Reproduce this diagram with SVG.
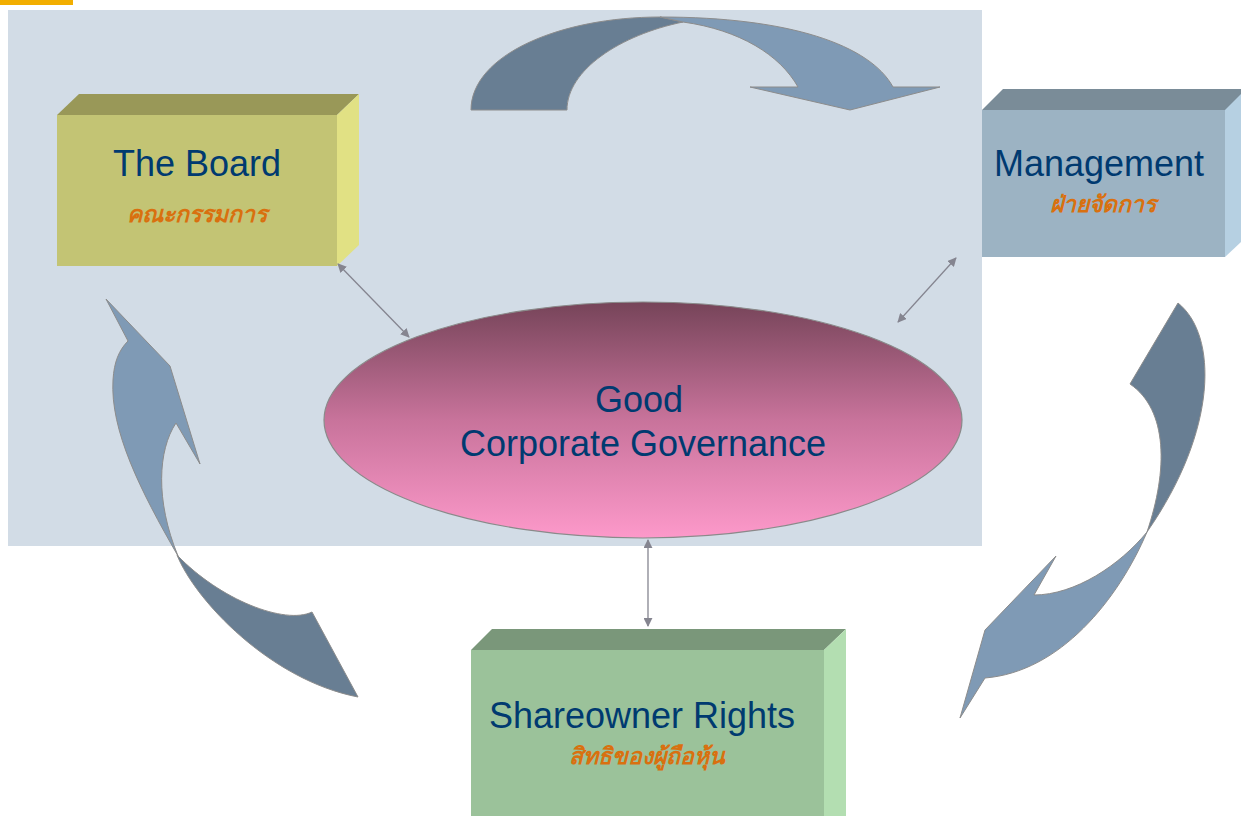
<svg xmlns="http://www.w3.org/2000/svg" width="1241" height="816" viewBox="0 0 1241 816">
<defs>
<style>
.en{font-family:"Liberation Sans",Arial,sans-serif;font-size:36px;fill:#003A70;text-anchor:middle}
.th{font-family:"DejaVu Sans","Noto Sans",sans-serif;font-size:23px;font-weight:bold;font-style:italic;fill:#D9700F;text-anchor:middle}
.dk{fill:#687E93;stroke:#8C8C8C;stroke-width:1}
.lt{fill:#7F9AB5;stroke:#8C8C8C;stroke-width:1}
.conn{stroke:#858590;stroke-width:1.3;fill:none;marker-start:url(#ah);marker-end:url(#ah)}
</style>
<marker id="ah" viewBox="0 0 10 10" refX="9" refY="5" markerWidth="9" markerHeight="9" markerUnits="userSpaceOnUse" orient="auto-start-reverse">
<path d="M0,0 L10,5 L0,10 Z" fill="#858590"/>
</marker>
<linearGradient id="eg" x1="0" y1="0" x2="0" y2="1">
<stop offset="0" stop-color="#764459"/>
<stop offset="0.5" stop-color="#C8739B"/>
<stop offset="1" stop-color="#FD99CA"/>
</linearGradient>
</defs>
<rect width="1241" height="816" fill="#FFFFFF"/>
<rect x="0" y="0" width="73" height="5" fill="#F2AE00"/>
<rect x="8" y="10" width="974" height="536" fill="#D2DCE6"/>

<g id="curved-arrows">
<path class="dk" d="M471,110 C471,55 560,17 660,17 L683,22 C620,35 567,70 567,110 Z"/>
<path class="lt" d="M660,17 C790,17 870,45 893,87 L940,87 L850,110 L750,87 L798,87 C780,55 740,30 683,22 Z"/>
<path class="dk" d="M312,612 L358,697 C270,680 195,600 177,555 C220,600 285,625 312,612 Z"/>
<path class="lt" d="M178,556 C140,490 110,430 113,380 C114,362 119,350 128,341 L106,299 L170,366 L200,464 L176,423 C158,450 155,500 178,556 Z"/>
<path class="dk" d="M1178,303 C1218,335 1218,430 1147,532 C1168,470 1168,410 1130,384 Z"/>
<path class="lt" d="M1147,532 C1118,600 1060,672 985,678 L960,718 L985,630 L1056,556 L1034,595 C1075,595 1120,565 1147,532 Z"/>
</g>

<g id="board">
<polygon points="57,115 79,94 359,94 337,115" fill="#999858"/>
<polygon points="337,115 359,94 359,245 337,266" fill="#E1E184"/>
<rect x="57" y="115" width="280" height="151" fill="#C3C474"/>
<text class="en" x="197" y="176">The Board</text>
<text class="th" x="197" y="222">คณะกรรมการ</text>
</g>

<g id="management">
<polygon points="982,110 1003,89 1241,89 1241,110" fill="#7A8C98"/>
<polygon points="1225,110 1241,94 1241,242 1225,257" fill="#B6D0E2"/>
<rect x="982" y="110" width="243" height="147" fill="#9CB3C3"/>
<text class="en" x="1099" y="176">Management</text>
<text class="th" x="1103" y="212">ฝ่ายจัดการ</text>
</g>

<g id="shareowner">
<polygon points="471,650 492,629 846,629 824,650" fill="#7A977A"/>
<polygon points="824,650 846,629 846,816 824,816" fill="#B3DEB1"/>
<rect x="471" y="650" width="353" height="166" fill="#9BC29A"/>
<text class="en" x="642" y="728">Shareowner Rights</text>
<text class="th" x="647" y="764">สิทธิของผู้ถือหุ้น</text>
</g>

<g id="governance">
<ellipse cx="643" cy="420" rx="319" ry="118" fill="url(#eg)" stroke="#8A8A8A" stroke-width="1.2"/>
<text class="en" x="639" y="412">Good</text>
<text class="en" x="643" y="456">Corporate Governance</text>
</g>

<g id="connectors">
<line class="conn" x1="338" y1="264" x2="409" y2="337"/>
<line class="conn" x1="956" y1="258" x2="898" y2="322"/>
<line class="conn" x1="648" y1="540" x2="648" y2="626"/>
</g>
</svg>
